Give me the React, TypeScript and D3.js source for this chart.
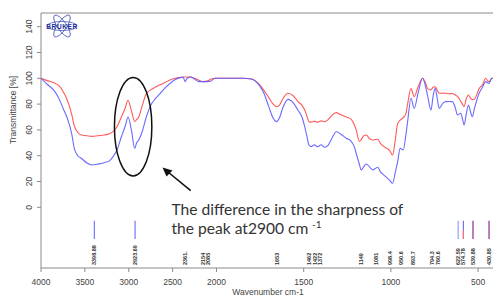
import * as d3 from 'd3';

// FT-IR spectra, transmittance [%] vs wavenumber (cm-1)
const wavenumbers = [
  4000, 3920, 3850, 3800, 3750, 3700, 3650, 3620, 3580, 3540,
  3480, 3420, 3350, 3280, 3220, 3180, 3130, 3084, 3040, 3008,
  2970, 2932, 2910, 2886, 2850, 2800, 2750, 2700, 2640, 2580,
  2530, 2470, 2420, 2380, 2358, 2340, 2300, 2250, 2200, 2150,
  2100, 2060, 2016, 1960, 1900, 1850, 1800, 1760, 1730, 1700,
  1675, 1656, 1640, 1620, 1590, 1560, 1533, 1510, 1494, 1480,
  1470, 1455, 1440, 1420, 1400, 1380, 1360, 1340, 1313, 1290,
  1256, 1230, 1210, 1199, 1180, 1170, 1155, 1142, 1120, 1104,
  1090, 1075, 1060, 1040, 1009, 990, 975, 961, 947, 929,
  915, 904, 885, 866, 845, 818, 800, 790, 770, 758,
  746, 735, 723, 700, 685, 665, 647, 630, 618, 599,
  590, 580, 568, 555, 545, 533, 520, 494, 475, 456,
  445, 437, 421, 400,
];

const redSpectrum = [
  100, 98, 96.5, 94.5, 90, 83, 72, 63, 58, 56,
  55.5, 55, 55.5, 56, 57, 58.6, 63, 70, 77, 83,
  75, 66.5, 68, 70, 78, 88, 91, 93, 95, 97,
  98.7, 100, 100.5, 101, 101, 101, 101, 100, 98.5, 97.4,
  98, 99.5, 100, 100, 100, 100, 99.5, 96, 91, 85,
  80, 78, 79, 84, 88.4, 86.5, 82, 79, 75.4, 70,
  66.4, 66, 66.8, 66, 67, 66.4, 68, 71, 73.4, 72,
  70, 68.5, 64, 60, 51, 52.5, 55.5, 56, 53, 52.2,
  52.5, 52.7, 49.6, 47, 44.4, 40.5, 52, 65, 67.5, 69.5,
  72, 80, 92, 85.7, 93, 100, 96, 92, 91, 93,
  93.5, 91, 88.4, 88.5, 88.4, 88, 88.2, 87, 86, 82,
  80, 78, 84, 87, 85, 83.5, 84, 92, 95, 100,
  98, 97.4, 100, 100,
];

const blueSpectrum = [
  100, 94.8, 90.5, 85, 77, 69, 57, 45.5, 40, 38,
  34.5, 32.8, 33.5, 34.6, 36, 39.2, 45, 54.7, 63, 70,
  60, 45.7, 50, 52.2, 58, 70, 79, 84, 88.4, 93,
  96, 99, 100.5, 100.8, 97.4, 99.5, 101, 99.5, 97.4, 97.4,
  97.4, 98, 100, 100, 100, 100, 99.5, 95.5, 89, 78,
  69, 66.4, 69, 77, 83.7, 81, 75.4, 70, 62.5, 54,
  48.3, 47, 48.5, 47, 48.5, 46.5, 48, 53, 58.6, 57,
  53.5, 51.5, 47, 41.9, 33, 28.9, 31.5, 33.6, 31, 28.9,
  30, 31, 27.5, 25, 21.2, 18.6, 27, 35.4, 45.7, 44.4,
  55, 66.4, 84.5, 76.7, 88, 100, 93, 87, 75.4, 86,
  92.2, 85, 76.7, 81, 81.9, 82, 81.9, 77, 71.5, 72.9,
  69, 63.8, 72, 79.3, 75, 70.2, 77, 88.4, 93, 97.4,
  96.5, 96.1, 100, 100,
];

// peak picking table
const peakPositions = [3392, 2928, 2358, 2157, 2096, 1652, 1470, 1437, 1409, 1170, 1085, 1004, 941, 871, 767, 727, 614, 584, 529, 437];
const peakLabels = ['3398.88', '2923.69', '2361.', '2154', '2085', '1653', '1462', '1422', '1372', '1149', '1081', '998.4', '950.6', '893.7', '794.3', '760.6', '622.59', '574.78', '539.88', '430.85'];
const markerPositions = [3392, 2928, 614, 584, 529, 437];
const markerColors = ['#7777ff', '#7777ff', '#9a9aff', '#7070ff', '#8a2a8a', '#8a2a8a'];

const xTicks = [4000, 3500, 3000, 2500, 2000, 1500, 1000, 500];
const yTicks = [0, 20, 40, 60, 80, 100, 120, 140];

const W = 493;
const H = 297;
const left = 41;
const top = 13;
const bottom = 268;

export default function App() {
  // OPUS style axis: the scale doubles below 2000 cm-1
  const x = d3.scaleLinear().domain([4000, 2000, 400]).range([left, 216.5, 495.5]);
  const y = d3.scaleLinear().domain([0, 140]).range([207.3, 26.7]);

  const line = d3.line<number>()
    .x((_, i) => x(wavenumbers[i]))
    .y(d => y(d))
    .curve(d3.curveMonotoneX);

  const axisColor = '#8a8a8a';
  const textColor = '#444';
  const font = 'Liberation Sans, Arial, sans-serif';

  return (
    <svg width={W} height={H} style={{ position: 'absolute', left: 0, top: 0, background: '#fff' }}>
      <defs>
        <clipPath id="plot">
          <rect x={left} y={top} width={W - left} height={bottom - top} />
        </clipPath>
      </defs>

      {/* frame */}
      <path d={`M${W},${top}H${left}V${bottom}H${W}`} fill="none" stroke={axisColor} strokeWidth={1} />

      {/* y axis */}
      {yTicks.map(t => (
        <g key={t}>
          <line x1={37} x2={left} y1={y(t)} y2={y(t)} stroke={axisColor} />
          <text transform={`translate(31.5,${y(t)}) rotate(-90)`} textAnchor="middle"
            fontFamily={font} fontSize={8.5} fill={textColor}>{t}</text>
        </g>
      ))}
      <text transform="translate(16,110) rotate(-90)" textAnchor="middle" fontFamily={font} fontSize={8.5} fill={textColor}>
        Transmittance [%]
      </text>

      {/* x axis */}
      {xTicks.map(t => (
        <g key={t}>
          <line x1={x(t)} x2={x(t)} y1={bottom} y2={bottom + 4} stroke={axisColor} />
          <text x={x(t)} y={285} textAnchor="middle" fontFamily={font} fontSize={8.5} fill={textColor}>{t}</text>
        </g>
      ))}
      <text x={268} y={295} textAnchor="middle" fontFamily={font} fontSize={8.5} fill={textColor}>Wavenumber cm-1</text>

      {/* spectra */}
      <g clipPath="url(#plot)" fill="none">
        <path d={line(redSpectrum) ?? ''} stroke="#ff5a5a" strokeWidth={1.1} />
        <path d={line(blueSpectrum) ?? ''} stroke="#5a5aff" strokeWidth={1.1} strokeOpacity={0.9} />
      </g>

      {/* peak markers and labels */}
      <g clipPath="url(#plot)">
        {markerPositions.map((p, i) => (
          <line key={p} x1={x(p)} x2={x(p)} y1={220.7} y2={239} stroke={markerColors[i]} strokeWidth={1.2} />
        ))}
        <line x1={x(584)} x2={x(584)} y1={230} y2={239} stroke="#ff6a6a" strokeWidth={1.2} />
        {peakPositions.map((p, i) => (
          <text key={p} transform={`translate(${x(p) + 2},265) rotate(-90)`} fontFamily={font}
            fontSize={5.5} fontWeight="bold" fill="#333">{peakLabels[i]}</text>
        ))}
      </g>

      {/* Bruker logo */}
      <g transform="translate(62,26)" fill="none" stroke="#4455bb" strokeWidth={0.8}>
        <ellipse rx={15} ry={4.5} />
        <ellipse rx={13} ry={4.5} transform="rotate(55)" />
        <ellipse rx={13} ry={4.5} transform="rotate(-55)" />
      </g>
      <text x={62} y={28.6} textAnchor="middle" fontFamily={font} fontSize={6.5} fontWeight="bold"
        letterSpacing={0.6} fill="#1a2a99">BRUKER</text>

      {/* annotation */}
      <ellipse cx={x(2950)} cy={y(62.5)} rx={18.7} ry={49.3} fill="none" stroke="#111" strokeWidth={1.5} />
      <line x1={190.7} y1={190.7} x2={168} y2={172} stroke="#111" strokeWidth={1.6} />
      <path d="M162.5,167.5 L172.5,170.5 L166.5,176.5 Z" fill="#111" />
      <text x={171.5} y={215} fontFamily="Lato, sans-serif" fontSize={15.6} fill="#333">
        The difference in the sharpness of
      </text>
      <text x={171.5} y={234} fontFamily="Lato, sans-serif" fontSize={15.6} fill="#333">
        the peak at2900 cm
      </text>
      <text x={312} y={228} fontFamily="Lato, sans-serif" fontSize={10} fill="#333">-1</text>
    </svg>
  );
}
